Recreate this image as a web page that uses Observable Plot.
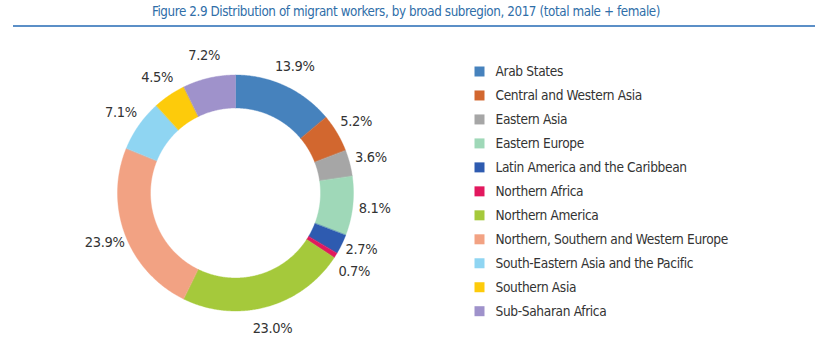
<!DOCTYPE html>
<html>
<head>
<meta charset="utf-8">
<script src="https://cdn.jsdelivr.net/npm/d3@7"></script>
<script src="https://cdn.jsdelivr.net/npm/@observablehq/plot@0.6"></script>
<style>
  html, body { margin: 0; padding: 0; background: #fff; }
  #wrap { position: relative; width: 840px; height: 351px; overflow: hidden; }
  #title { position: absolute; left: 13px; top: 3px; width: 802px; height: 22px;
    border-bottom: 2px solid #5b8fc7; text-align: center; color: #2f6ea8;
    font-family: "Liberation Sans Narrow", "DejaVu Sans Condensed", sans-serif; font-size: 13.3px; letter-spacing: -0.4px; line-height: 18px; }
  #title span { position: relative; left: -8px; }
  #chart { position: absolute; left: 0; top: 0; }
</style>
</head>
<body>
<div id="wrap">
  <div id="chart"></div>
  <div id="title"><span>Figure 2.9 Distribution of migrant workers, by broad subregion, 2017 (total male + female)</span></div>
</div>
<script>
const categories = [
  "Arab States",
  "Central and Western Asia",
  "Eastern Asia",
  "Eastern Europe",
  "Latin America and the Caribbean",
  "Northern Africa",
  "Northern America",
  "Northern, Southern and Western Europe",
  "South-Eastern Asia and the Pacific",
  "Southern Asia",
  "Sub-Saharan Africa"
];
const shares = [13.9, 5.2, 3.6, 8.1, 2.7, 0.7, 23.0, 23.9, 7.1, 4.5, 7.2];
const labels = ["13.9%", "5.2%", "3.6%", "8.1%", "2.7%", "0.7%", "23.0%", "23.9%", "7.1%", "4.5%", "7.2%"];
const colors = ["#4682bd", "#d2672f", "#a6a6a6", "#9fd8b8", "#2e5bb0", "#e2185e", "#a5c93b", "#f2a283", "#8fd5f2", "#fdcb0b", "#9f92cb"];

const W = 840, H = 351;
const cx = 235, cy = 192.5;      // donut centre (px)
const rOut = 118, rIn = 85, rLab = 140;
const font = "'Liberation Sans Narrow', 'DejaVu Sans Condensed', sans-serif";

const pie = d3.pie().sort(null).value(d => d)(shares);

// slice outlines in polar -> cartesian (data units = px from centre)
const polys = [];
pie.forEach((p, i) => {
  const a0 = p.startAngle, a1 = p.endAngle;
  const n = Math.max(2, Math.ceil((a1 - a0) / (Math.PI / 360)));
  for (let k = 0; k <= n; k++) {
    const a = a0 + (a1 - a0) * k / n;
    polys.push({cat: categories[i], x: rOut * Math.sin(a), y: rOut * Math.cos(a)});
  }
  for (let k = n; k >= 0; k--) {
    const a = a0 + (a1 - a0) * k / n;
    polys.push({cat: categories[i], x: rIn * Math.sin(a), y: rIn * Math.cos(a)});
  }
});

const labelData = pie.map((p, i) => {
  const a = (p.startAngle + p.endAngle) / 2;
  return {label: labels[i], x: rLab * Math.sin(a), y: rLab * Math.cos(a), right: Math.sin(a) >= 0};
});
// simple vertical de-overlap for labels on each side
for (const side of [true, false]) {
  const group = labelData.filter(d => d.right === side).sort((a, b) => b.y - a.y);
  for (let iter = 0; iter < 20; iter++) {
    for (let j = 1; j < group.length; j++) {
      const gap = group[j - 1].y - group[j].y;
      if (gap < 22) {
        const push = (22 - gap) / 2;
        group[j - 1].y += push;
        group[j].y -= push;
      }
    }
  }
}

const legendData = categories.map((c, i) => ({
  cat: c,
  x: 479 - cx,
  tx: 495 - cx,
  y: cy - (71 + i * 23.97)
}));

const chart = Plot.plot({
  width: W, height: H,
  margin: 0,
  x: {domain: [-cx, W - cx], range: [0, W], axis: null},
  y: {domain: [-(H - cy), cy], range: [H, 0], axis: null},
  color: {domain: categories, range: colors},
  style: {fontFamily: font, background: "white", letterSpacing: "-0.35px"},
  marks: [
    Plot.line(polys, {x: "x", y: "y", z: "cat", fill: "cat", stroke: "cat", strokeWidth: 0.4, curve: "linear-closed"}),
    Plot.text(labelData, {x: "x", y: "y", text: "label", fontSize: 14.5, fill: "#333", textAnchor: "middle"}),
    Plot.dot(legendData, {x: "x", y: "y", fill: "cat", symbol: "square", r: 5.64, stroke: null}),
    Plot.text(legendData, {x: "tx", y: "y", text: "cat", fontSize: 13.6, fill: "#333", textAnchor: "start"})
  ]
});
document.getElementById("chart").appendChild(chart);
</script>
</body>
</html>
